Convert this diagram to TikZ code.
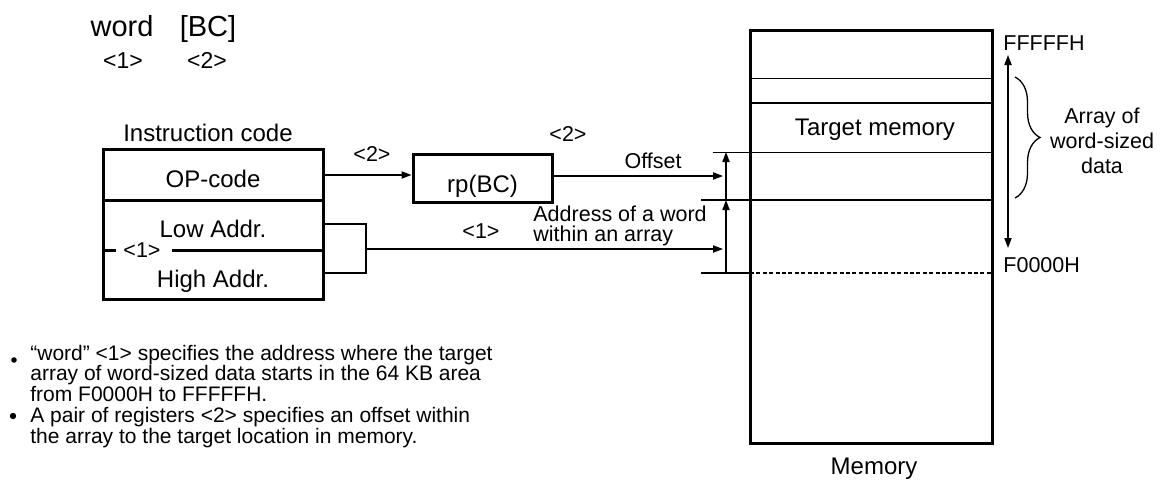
\documentclass[tikz,border=0pt]{standalone}
\usepackage{fontspec}
\setmainfont{Liberation Sans}
\usetikzlibrary{arrows.meta,decorations.pathreplacing}
\begin{document}
\begin{tikzpicture}[x=0.5pt,y=-0.5pt,
        big/.style={font=\fontsize{12}{14}\selectfont,inner sep=0pt,anchor=base},
        small/.style={font=\fontsize{10.75}{13}\selectfont,inner sep=0pt,anchor=base},
        box/.style={draw,line width=1.5pt,inner sep=0pt},
        thin/.style={line width=0.65pt},
        arr/.style={thin,-{Triangle[length=5pt,width=3.6pt]}}]
        \useasboundingbox (0,0) rectangle (1166,493);
        % operand syntax
        \node[font=\fontsize{14.5}{16}\selectfont,inner sep=0pt,anchor=base] (word) at (122,36) {word};
        \node[font=\fontsize{14.5}{16}\selectfont,inner sep=0pt,anchor=base] (bc) at (208,36) {[BC]};
        \node[small,font=\fontsize{11.5}{13}\selectfont] (n1) at (123,68) {<1>};
        \node[small,font=\fontsize{11.5}{13}\selectfont] (n2) at (207,68) {<2>};
        % instruction code
        \node[big] (ic) at (208,141) {Instruction code};
        \node[box,minimum width=110pt,minimum height=75pt] (instr) at (213,224) {};
        \draw[line width=1.5pt] (103,200) -- (323,200);
        \draw[line width=1.5pt] (103,250) -- (116,250);
        \draw[line width=1.5pt] (172,250) -- (323,250);
        \node[big] (op) at (213,187) {OP-code};
        \node[big] (low) at (213,237) {Low Addr.};
        \node[big] (high) at (213,287) {High Addr.};
        \node[small,anchor=center] (m1) at (142,250) {<1>};
        % register pair
        \node[box,minimum width=69.5pt,minimum height=24pt] (rp) at (482.5,178) {};
        \node[big] (rplbl) at (482.5,192) {rp(BC)};
        \draw[arr] (instr.east |- 0,175) -- (rp.west |- 0,175);
        \node[small] (m2) at (372,161) {<2>};
        \node[small] (m3) at (568,141) {<2>};
        % memory
        \node[box,minimum width=121pt,minimum height=206.5pt] (mem) at (871,236.5) {};
        \node[big] (mlbl) at (874,474) {Memory};
        \node[big] (tgt) at (875,135) {Target memory};
        \draw[line width=0.5pt] (750,78) -- (992,78);
        \draw[line width=1pt] (750,103) -- (992,103);
        \draw[line width=0.5pt] (713,152) -- (992,152);
        \draw[line width=1pt] (701,200) -- (992,200);
        \draw[thin] (701,273) -- (750,273);
        \draw[thin,dash pattern=on 2pt off 1.2pt] (750,273) -- (992,273);
        \coordinate (top) at (726,152);
        \coordinate (mid) at (726,200);
        \coordinate (bot) at (726,273);
        \draw[arr] (bot) -- (mid);
        \draw[arr] (mid) -- (top);
        % offset and address
        \draw[arr,shorten >=1.5pt] (rp.east |- 0,176) -- (mid |- 0,176);
        \node[small] (off) at (653,168) {Offset};
        \coordinate (br) at (366,249);
        \draw[thin] (instr.east) -- (366,224) -- (366,273) -- (323,273);
        \draw[arr,shorten >=1.5pt] (br) -- (br -| mid);
        \node[small] (m4) at (481,238) {<1>};
        \node[small,anchor=base west,align=left,font={\fontsize{10.75}{10}\selectfont\lineskiplimit=-20pt}] (addr) at (533,241) {Address of a word\\within an array};
        % address range
        \node[small,anchor=base west] (hiaddr) at (1003,50) {FFFFFH};
        \node[small,anchor=base west] (loaddr) at (1003,272) {F0000H};
        \coordinate (hi) at (1008,55);
        \coordinate (lo) at (1008,248);
        \draw[thin,{Triangle[length=5pt,width=3.6pt]}-{Triangle[length=5pt,width=3.6pt]}] (hi) -- (lo);
        \draw[thin,decorate,decoration={brace,amplitude=12.5pt}] (1015,77) -- (1015,198);
        \node[small,align=center,font={\fontsize{10.75}{12.5}\selectfont\lineskiplimit=-20pt}] (arr) at (1102,173) {Array of\\word-sized\\data};
        % notes
        \fill (14,360) circle (1.4pt);
        \fill (13,416) circle (1.6pt);
        \node[anchor=base west,align=left,inner sep=0pt,font={\fontsize{10.5}{10.35}\selectfont\lineskiplimit=-20pt}] (note) at (30,443)
            {“word” <1> specifies the address where the target\\array of word-sized data starts in the 64 KB area\\from F0000H to FFFFFH.\\A pair of registers <2> specifies an offset within\\the array to the target location in memory.};
    \end{tikzpicture}
\end{document}
